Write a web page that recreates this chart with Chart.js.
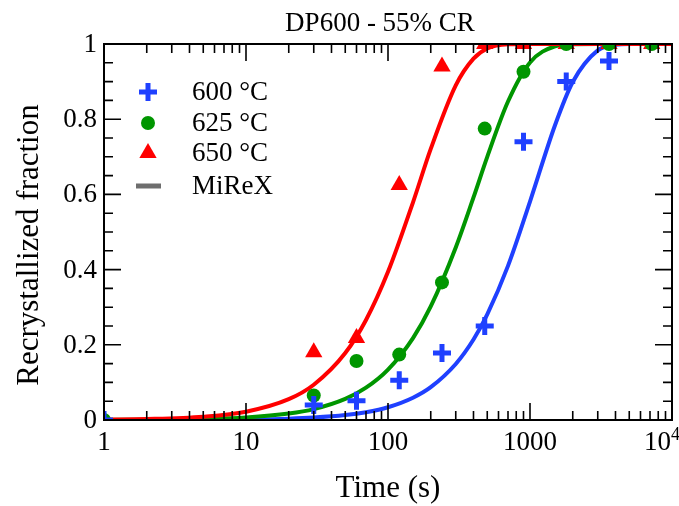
<!DOCTYPE html>
<html>
<head>
<meta charset="utf-8">
<script src="https://cdn.jsdelivr.net/npm/chart.js@4/dist/chart.umd.min.js"></script>
<style>
  html, body { margin: 0; padding: 0; background: #fff; }
  #wrap { width: 679px; height: 506px; }
</style>
</head>
<body>
<div id="wrap"><canvas id="c" width="679" height="506"></canvas></div>
<script>
// Measured recrystallized fraction (annealing time in s)
const measTimes = [1, 30, 60, 120, 240, 480, 900, 1800, 3600, 7200];
const frac600 = [0, 0.040, 0.051, 0.106, 0.178, 0.250, 0.740, 0.900, 0.955, null];
const frac625 = [0, 0.065, 0.157, 0.174, 0.366, 0.775, 0.926, 1.0, 1.0, 1.0];
const frac650 = [null, 0.180, 0.218, 0.625, 0.940, 1.0, 1.0, 1.0, 1.0, 1.0];

// MiReX model curves
const modelTimes = [1, 2, 5, 10, 20, 30, 50, 70, 100, 150, 200, 300, 400, 500, 700, 1000, 1500, 2000, 3000, 4000, 5000, 7000, 10000];
const model600 = [0.0001, 0.0001, 0.0005, 0.0014, 0.0036, 0.0064, 0.0130, 0.0208, 0.0340, 0.0593, 0.0873, 0.149, 0.214, 0.281, 0.410, 0.581, 0.784, 0.899, 0.983, 0.998, 1, 1, 1];
const model625 = [0.0003, 0.0008, 0.0028, 0.0069, 0.0171, 0.0289, 0.0561, 0.0859, 0.134, 0.218, 0.302, 0.459, 0.592, 0.700, 0.847, 0.951, 0.994, 0.9995, 1, 1, 1, 1, 1];
const model650 = [0.001, 0.0025, 0.0087, 0.0221, 0.0554, 0.0938, 0.178, 0.266, 0.394, 0.579, 0.721, 0.890, 0.961, 0.988, 0.999, 1, 1, 1, 1, 1, 1, 1, 1];

// Axis ticks and labels
const xTickValues = [1, 10, 100, 1000, 10000];
const xTickLabels = ['1', '10', '100', '1000', '10^4'];
const yTickValues = [0, 0.2, 0.4, 0.6, 0.8, 1];
const yTickLabels = ['0', '0.2', '0.4', '0.6', '0.8', '1'];
const legendLabels = ['600 \u00B0C', '625 \u00B0C', '650 \u00B0C', 'MiReX'];

const chartTitle = 'DP600 - 55% CR';
const xTitle = 'Time (s)';
const yTitle = 'Recrystallized fraction';

const BLUE = '#1f40ff';
const GREEN = '#009600';
const RED = '#ff0000';
const GREY = '#6e6e6e';
const SERIF = "'Liberation Serif', 'Times New Roman', Times, serif";

const pts = (xs, ys) => xs.map((t, i) => ({ x: t, y: ys[i] })).filter(p => p.y !== null);

const markerSet = (label, ys, style, color, radius, bw) => ({
  label, data: pts(measTimes, ys), showLine: false, clip: 0,
  pointStyle: style, pointRadius: radius, pointHoverRadius: radius,
  pointBackgroundColor: color, pointBorderColor: color, pointBorderWidth: bw
});
const curveSet = (label, ys, color) => ({
  label, data: pts(modelTimes, ys), showLine: true, clip: 0,
  borderColor: color, borderWidth: 4, pointRadius: 0, pointHoverRadius: 0,
  fill: false, cubicInterpolationMode: 'monotone'
});

// Frame, ticks, labels, titles and legend
const decor = {
  id: 'decor',
  afterDatasetsDraw(chart) {
    const { ctx, chartArea: a, scales: { x, y } } = chart;
    ctx.save();
    ctx.strokeStyle = '#000';
    ctx.fillStyle = '#000';
    ctx.lineWidth = 1.6;
    ctx.beginPath();
    // x ticks, major and minor, bottom and top
    for (let d = 1; d < 10000; d *= 10) {
      for (let m = 1; m <= 10; m++) {
        const v = d * m;
        const px = x.getPixelForValue(v);
        const len = (m === 1 || m === 10) ? 17 : 9;
        ctx.moveTo(px, a.bottom); ctx.lineTo(px, a.bottom - len);
        ctx.moveTo(px, a.top); ctx.lineTo(px, a.top + len);
      }
    }
    // y ticks every 0.05, major at 0.2
    for (let k = 0; k <= 20; k++) {
      const v = k * 0.05;
      const py = y.getPixelForValue(v);
      const len = (k % 4 === 0) ? 17 : 9;
      ctx.moveTo(a.left, py); ctx.lineTo(a.left + len, py);
      ctx.moveTo(a.right, py); ctx.lineTo(a.right - len, py);
    }
    ctx.stroke();
    ctx.lineWidth = 2;
    ctx.strokeRect(a.left, a.top, a.right - a.left, a.bottom - a.top);

    // tick labels
    ctx.font = '27px ' + SERIF;
    ctx.textBaseline = 'middle';
    ctx.textAlign = 'right';
    yTickValues.forEach((v, i) => {
      ctx.fillText(yTickLabels[i], a.left - 7, y.getPixelForValue(v) + 1);
    });
    ctx.textBaseline = 'alphabetic';
    xTickValues.forEach((v, i) => {
      const px = x.getPixelForValue(v);
      const lab = xTickLabels[i];
      if (lab.includes('^')) {
        const [base, sup] = lab.split('^');
        ctx.font = '27px ' + SERIF;
        const wb = ctx.measureText(base).width;
        ctx.font = '18px ' + SERIF;
        const ws = ctx.measureText(sup).width;
        const start = px + 8 - wb - ws;
        ctx.textAlign = 'left';
        ctx.font = '27px ' + SERIF;
        ctx.fillText(base, start, 450);
        ctx.font = '18px ' + SERIF;
        ctx.fillText(sup, start + wb, 440);
      } else {
        ctx.font = '27px ' + SERIF;
        ctx.textAlign = 'center';
        ctx.fillText(lab, px, 450);
      }
    });

    // titles
    ctx.textAlign = 'center';
    ctx.font = '27px ' + SERIF;
    ctx.fillText(chartTitle, 380, 31);
    ctx.font = '31px ' + SERIF;
    ctx.fillText(xTitle, (a.left + a.right) / 2, 497);
    ctx.save();
    ctx.translate(38, 245);
    ctx.rotate(-Math.PI / 2);
    ctx.fillText(yTitle, 0, 0);
    ctx.restore();

    // legend
    const lx = 148, tx = 192;
    const rows = [92, 123, 153, 186];
    ctx.strokeStyle = BLUE; ctx.lineWidth = 5;
    ctx.beginPath();
    ctx.moveTo(lx - 9, rows[0]); ctx.lineTo(lx + 9, rows[0]);
    ctx.moveTo(lx, rows[0] - 9); ctx.lineTo(lx, rows[0] + 9);
    ctx.stroke();
    ctx.fillStyle = GREEN;
    ctx.beginPath(); ctx.arc(lx, rows[1], 7, 0, Math.PI * 2); ctx.fill();
    ctx.fillStyle = RED;
    ctx.beginPath();
    const r = 10;
    ctx.moveTo(lx, rows[2] - r);
    ctx.lineTo(lx + r * Math.sin(2 * Math.PI / 3), rows[2] - r * Math.cos(2 * Math.PI / 3));
    ctx.lineTo(lx + r * Math.sin(4 * Math.PI / 3), rows[2] - r * Math.cos(4 * Math.PI / 3));
    ctx.closePath(); ctx.fill();
    ctx.strokeStyle = GREY; ctx.lineWidth = 5;
    ctx.beginPath(); ctx.moveTo(lx - 12, rows[3]); ctx.lineTo(lx + 13, rows[3]); ctx.stroke();

    ctx.fillStyle = '#000';
    ctx.font = '27px ' + SERIF;
    ctx.textAlign = 'left';
    ctx.textBaseline = 'middle';
    legendLabels.forEach((t, i) => ctx.fillText(t, tx, rows[i] + 1));
    ctx.restore();
  }
};

new Chart(document.getElementById('c'), {
  type: 'scatter',
  data: {
    datasets: [
      markerSet('600 \u00B0C', frac600, 'cross', BLUE, 9, 5),
      markerSet('625 \u00B0C', frac625, 'circle', GREEN, 7, 0),
      markerSet('650 \u00B0C', frac650, 'triangle', RED, 10, 0),
      curveSet('MiReX 650 \u00B0C', model650, RED),
      curveSet('MiReX 625 \u00B0C', model625, GREEN),
      curveSet('MiReX 600 \u00B0C', model600, BLUE)
    ]
  },
  options: {
    responsive: false,
    animation: false,
    devicePixelRatio: 1,
    layout: { autoPadding: false, padding: { left: 104, right: 7, top: 44, bottom: 86 } },
    plugins: { legend: { display: false }, tooltip: { enabled: false }, title: { display: false } },
    scales: {
      x: { type: 'logarithmic', min: 1, max: 10000, display: false },
      y: { type: 'linear', min: 0, max: 1, display: false }
    }
  },
  plugins: [decor]
});
</script>
</body>
</html>
